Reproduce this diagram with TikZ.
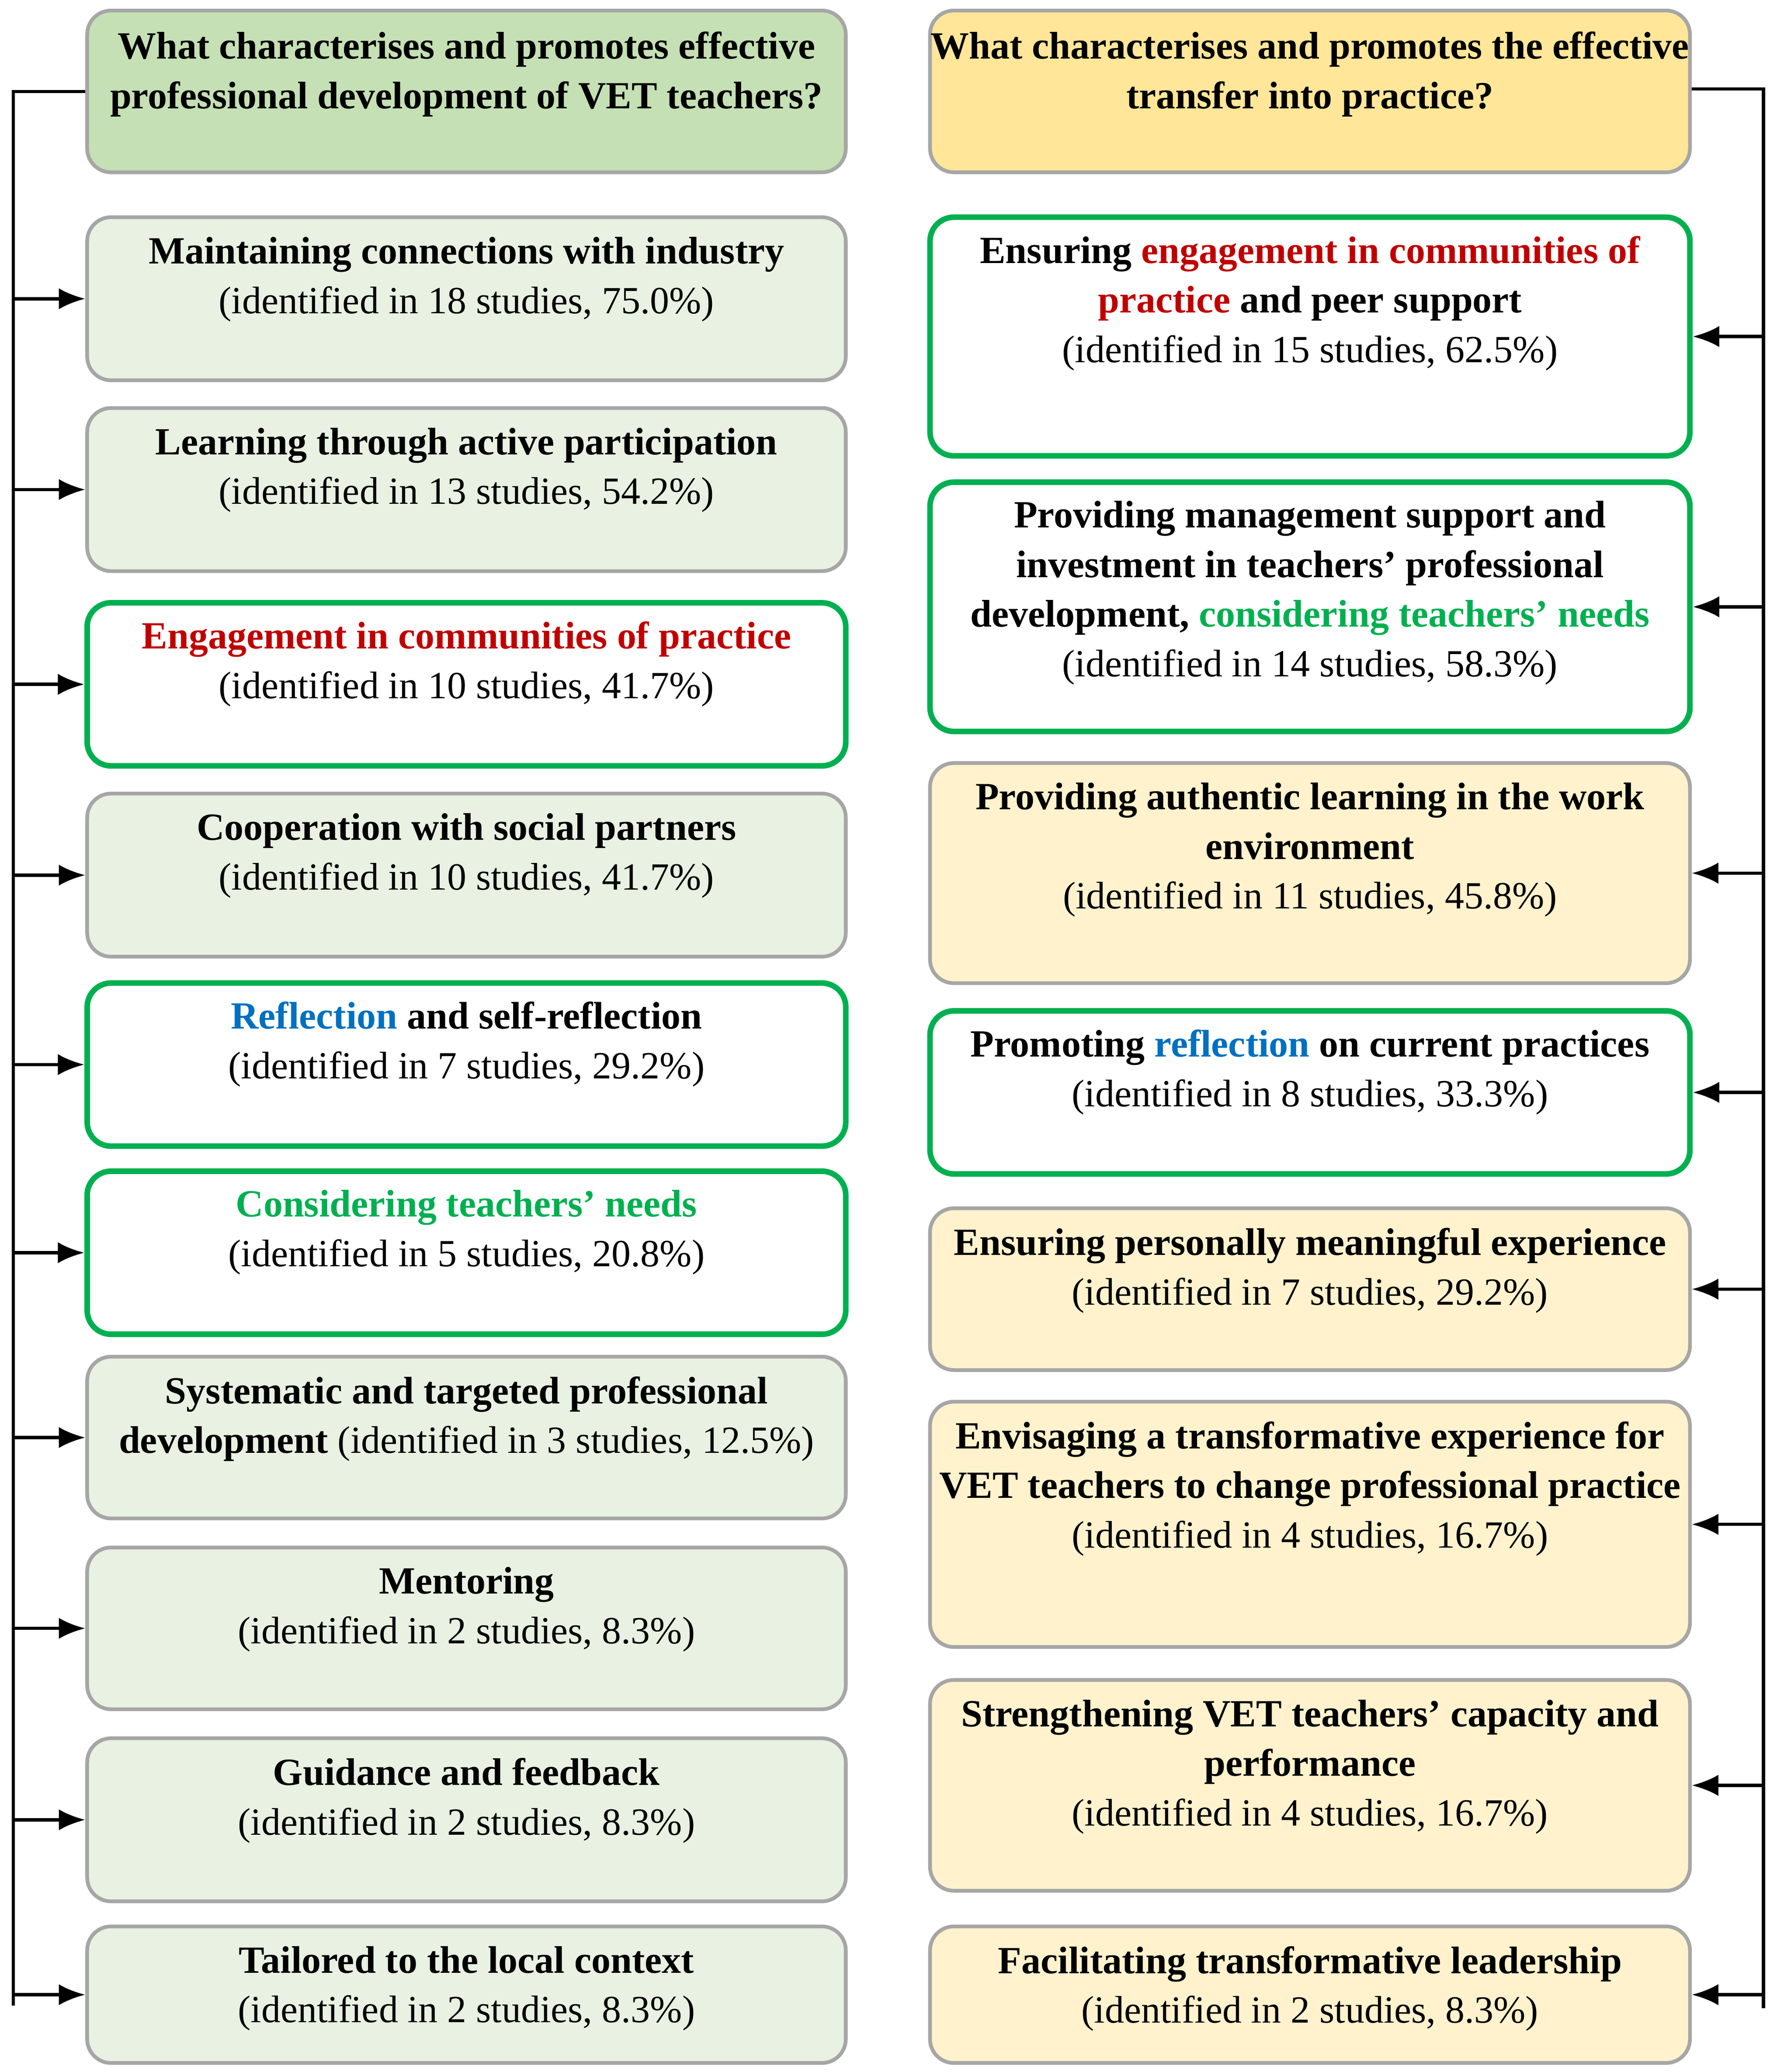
\documentclass[tikz,border=0pt]{standalone}
\usepackage{fontspec}
\setmainfont{Liberation Serif}
\usetikzlibrary{arrows.meta}
\definecolor{lhead}{HTML}{C5E0B4}
\definecolor{lfill}{HTML}{E8F1E2}
\definecolor{rhead}{HTML}{FFE699}
\definecolor{rfill}{HTML}{FFF2CC}
\definecolor{gb}{HTML}{00B050}
\definecolor{rd}{HTML}{C00000}
\definecolor{bl}{HTML}{0070C0}
\definecolor{bd}{HTML}{A6A6A6}
\tikzset{
 box/.style={rectangle,rounded corners=0.36cm,draw=bd,line width=1.6pt,inner sep=0pt},
 lb/.style={box,fill=lfill},
 lh/.style={box,fill=lhead},
 rb/.style={box,fill=rfill},
 rh/.style={box,fill=rhead},
 wb/.style={box,draw=gb,line width=2.4pt,fill=white},
 txt/.style={align=center,font=\fontsize{16.5}{21.3}\selectfont,inner sep=0pt},
 arr/.style={line width=1.4pt,-{Latex[length=0.4cm,width=0.32cm]}},
 bus/.style={line width=1.4pt}
}
\newcommand{\bx}[7]{%
 \node[#6,minimum width={(#4-#2)*0.02cm},minimum height={(#5-#3)*0.02cm}] (#1) at ({(#2+#4)*0.01},{-(#3+#5)*0.01}) {};
 \node[txt,anchor=north] (#1t) at ([yshift=-0.32cm]#1.north) {#7};}
\newcommand{\hx}[7]{%
 \node[#6,minimum width={(#4-#2)*0.02cm},minimum height={(#5-#3)*0.02cm}] (#1) at ({(#2+#4)*0.01},{-(#3+#5)*0.01}) {};
 \node[txt] (#1t) at ([yshift=0.26cm]#1.center) {#7};}
\begin{document}
\begin{tikzpicture}
\useasboundingbox (0,0) rectangle (26.8,-31.26);
\hx{LH}{66}{8}{638}{130}{lh}{\textbf{What characterises and promotes effective}\\\textbf{professional development of VET teachers?}}
\bx{L1}{66}{164}{638}{287}{lb}{\textbf{Maintaining connections with industry}\\(identified in 18 studies, 75.0\%)}
\bx{L2}{66}{308}{638}{431}{lb}{\textbf{Learning through active participation}\\(identified in 13 studies, 54.2\%)}
\bx{L3}{66}{455}{638}{578}{wb}{\textbf{\color{rd}Engagement in communities of practice}\\(identified in 10 studies, 41.7\%)}
\bx{L4}{66}{599}{638}{722}{lb}{\textbf{Cooperation with social partners}\\(identified in 10 studies, 41.7\%)}
\bx{L5}{66}{742}{638}{865}{wb}{\textbf{{\color{bl}Reflection} and self-reflection}\\(identified in 7 studies, 29.2\%)}
\bx{L6}{66}{884}{638}{1007}{wb}{\textbf{\color{gb}Considering teachers’ needs}\\(identified in 5 studies, 20.8\%)}
\bx{L7}{66}{1024}{638}{1146}{lb}{\textbf{Systematic and targeted professional}\\\textbf{development} (identified in 3 studies, 12.5\%)}
\bx{L8}{66}{1168}{638}{1290}{lb}{\textbf{Mentoring}\\(identified in 2 studies, 8.3\%)}
\bx{L9}{66}{1312}{638}{1435}{lb}{\textbf{Guidance and feedback}\\(identified in 2 studies, 8.3\%)}
\bx{L10}{66}{1454}{638}{1557}{lb}{\textbf{Tailored to the local context}\\(identified in 2 studies, 8.3\%)}
\hx{RH}{702}{8}{1275}{130}{rh}{\textbf{What characterises and promotes the effective}\\\textbf{transfer into practice?}}
\bx{R1}{702}{164}{1275}{344}{wb}{\textbf{Ensuring {\color{rd}engagement in communities of}}\\\textbf{{\color{rd}practice} and peer support}\\(identified in 15 studies, 62.5\%)}
\bx{R2}{702}{364}{1275}{552}{wb}{\textbf{Providing management support and}\\\textbf{investment in teachers' professional}\\\textbf{development, {\color{gb}considering teachers' needs}}\\(identified in 14 studies, 58.3\%)}
\bx{R3}{702}{576}{1275}{742}{rb}{\textbf{Providing authentic learning in the work}\\\textbf{environment}\\(identified in 11 studies, 45.8\%)}
\bx{R4}{702}{763}{1275}{886}{wb}{\textbf{Promoting {\color{bl}reflection} on current practices}\\(identified in 8 studies, 33.3\%)}
\bx{R5}{702}{912}{1275}{1034}{rb}{\textbf{Ensuring personally meaningful experience}\\(identified in 7 studies, 29.2\%)}
\bx{R6}{702}{1058}{1275}{1243}{rb}{\textbf{Envisaging a transformative experience for}\\\textbf{VET teachers to change professional practice}\\(identified in 4 studies, 16.7\%)}
\bx{R7}{702}{1268}{1275}{1427}{rb}{\textbf{Strengthening VET teachers’ capacity and}\\\textbf{performance}\\(identified in 4 studies, 16.7\%)}
\bx{R8}{702}{1454}{1275}{1557}{rb}{\textbf{Facilitating transformative leadership}\\(identified in 2 studies, 8.3\%)}
% left bus
\coordinate (lt) at (0.2,-1.38);
\coordinate (lbot) at (0.2,-30.26);
\draw[bus] (LH.west|-0,-1.38) -- (lt) -- (lbot);
\foreach \n in {L1,L2,L3,L4,L5,L6,L7,L8,L9,L10}{\draw[arr] (\n.west-|lt) -- (\n.west);}
% right bus
\coordinate (rt) at (26.6,-1.34);
\coordinate (rbot) at (26.6,-30.3);
\draw[bus] (RH.east|-0,-1.34) -- (rt) -- (rbot);
\foreach \n in {R1,R2,R3,R4,R5,R6,R7,R8}{\draw[arr] (\n.east-|rt) -- (\n.east);}
\end{tikzpicture}
\end{document}
